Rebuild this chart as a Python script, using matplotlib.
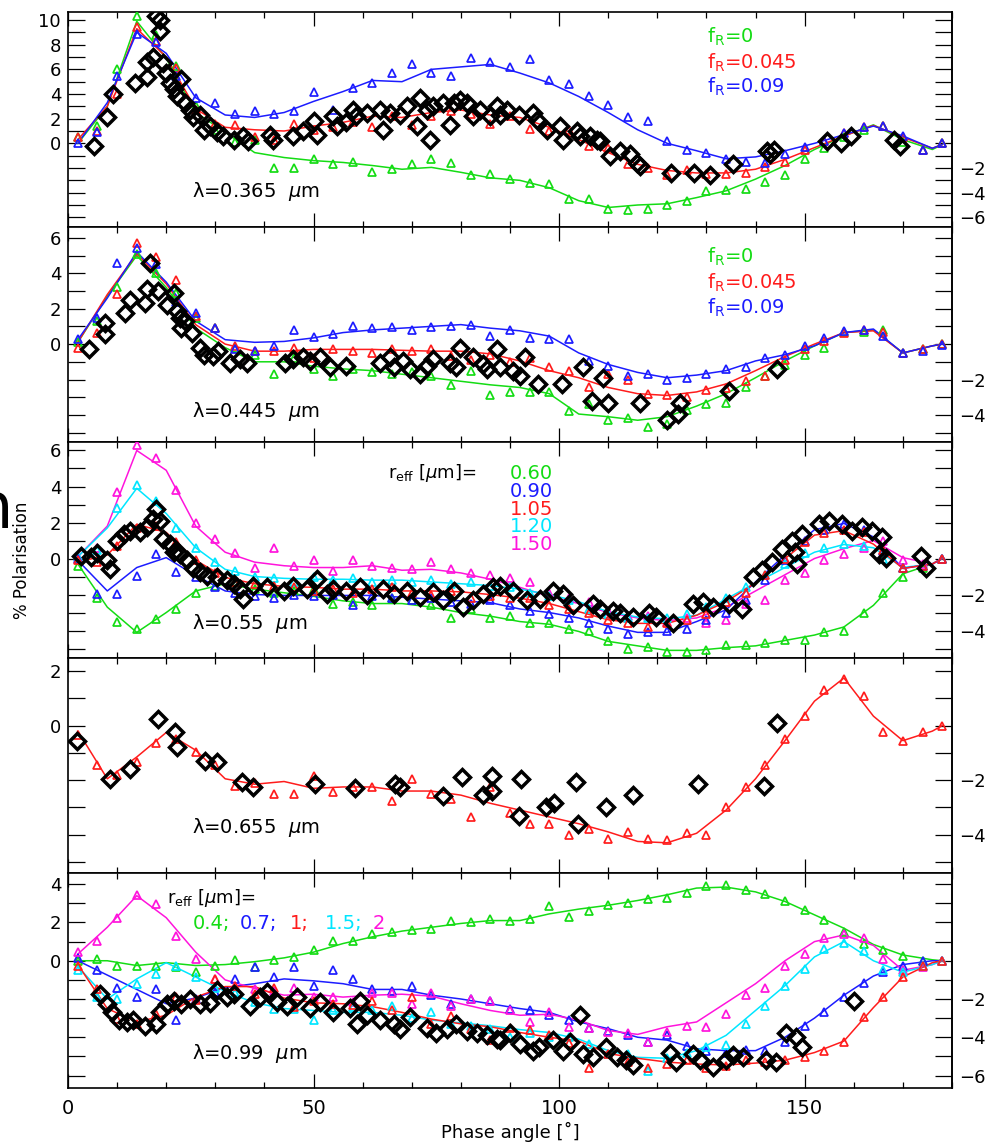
import matplotlib.pyplot as plt
from matplotlib.ticker import MultipleLocator
import matplotlib.transforms as mtransforms

plt.rcParams['font.family'] = 'DejaVu Sans'
plt.rcParams['mathtext.default'] = 'regular'

# phase angles of the model points (triangles) and of the smoothed model curves
ang_pts = [2, 6, 10, 14, 18, 22, 26, 30, 34, 38, 42, 46, 50, 54, 58, 62, 66, 70, 74, 78, 82, 86, 90,
           94, 98, 102, 106, 110, 114, 118, 122, 126, 130, 134, 138, 142, 146, 150, 154, 158, 162,
           166, 170, 174, 178]
ang_line = [2, 8, 14, 20, 26, 32, 38, 44, 50, 56, 62, 68, 74, 80, 86, 92, 98, 104, 110, 116, 122,
            128, 134, 140, 146, 152, 158, 164, 170, 176, 178]

# ---- lambda = 0.365 um, f_R = 0 / 0.045 / 0.09
p1_line_g = [0.0, 3.0, 9.9, 6.9, 2.5, 0.9, -0.75, -1.15, -1.4, -1.55, -1.8, -2.1, -1.95, -2.35, -2.8, -3.0,
             -3.6, -4.65, -5.2, -5.0, -4.9, -4.4, -3.85, -2.9, -1.8, -0.5, 0.6, 1.5, 0.3, -0.5, -0.1]
p1_line_r = [0.3, 3.0, 9.3, 7.0, 2.8, 1.3, 1.1, 1.0, 1.4, 1.7, 2.2, 2.1, 2.5, 2.7, 2.3, 2.1, 1.3, 0.3,
             -0.75, -1.7, -2.2, -2.4, -2.4, -2.1, -1.3, -0.35, 0.6, 1.45, 0.5, -0.4, -0.1]
p1_line_b = [0.0, 3.3, 9.0, 7.3, 3.7, 2.3, 2.1, 2.5, 3.4, 4.2, 5.1, 5.0, 6.0, 6.2, 6.4, 5.7, 4.9, 3.8,
             2.5, 1.1, 0.0, -0.6, -1.25, -1.1, -0.6, 0.0, 0.7, 1.4, 0.6, -0.4, -0.1]
p1_pts_g = [0.5, 1.4, 6.0, 10.3, 8.8, 6.3, 3.0, 1.1, 0.1, 0.3, -2.0, -2.0, -1.3, -1.7, -1.5, -2.3, -2.1,
            -1.7, -1.3, -1.6, -2.6, -2.5, -2.9, -3.2, -3.3, -4.5, -4.5, -5.3, -5.4, -5.3, -5.0, -4.7,
            -3.9, -3.8, -3.7, -3.1, -2.6, -1.3, -0.4, 0.5, 1.1, 1.4, 0.1, -0.5, 0.0]
p1_pts_r = [0.5, 1.0, 4.0, 9.4, 8.3, 6.1, 2.7, 1.6, 1.5, 0.5, 0.3, 1.6, 1.1, 1.3, 1.7, 1.3, 2.2, 1.5, 2.2,
            2.6, 2.4, 1.6, 2.2, 1.2, 1.0, 1.1, -0.2, -0.4, -1.7, -2.0, -2.6, -2.2, -2.5, -2.5, -2.4,
            -1.9, -1.5, -0.5, 0.2, 0.8, 1.3, 1.4, 0.5, -0.5, 0.0]
p1_pts_b = [0.0, 0.9, 5.5, 8.9, 8.2, 5.5, 3.7, 3.3, 2.4, 2.6, 2.4, 2.6, 4.2, 2.7, 4.5, 4.9, 5.7, 6.4, 5.7,
            5.5, 6.9, 6.6, 6.2, 6.8, 5.1, 4.8, 3.8, 3.1, 2.1, 1.8, 0.2, -0.5, -0.8, -1.3, -1.5, -1.6,
            -0.9, -0.3, 0.2, 0.8, 1.3, 1.4, 0.6, -0.5, 0.0]
p1_obs_x = [5.2, 7.9, 9.2, 13.6, 16.0, 16.0, 17.4, 18.0, 18.7, 18.7, 19.4, 20.0, 20.8, 21.5, 22.1, 23.0,
            23.8, 24.8, 25.5, 26.9, 27.6, 28.9, 30.3, 31.6, 33.7, 35.7, 36.7, 41.1, 41.8, 45.9, 47.9,
            50.0, 50.6, 54.0, 54.7, 56.7, 58.0, 58.7, 60.8, 63.5, 64.2, 65.6, 67.6, 69.0, 71.0, 71.7,
            73.0, 73.7, 74.4, 76.4, 77.8, 78.5, 79.8, 81.2, 82.5, 83.9, 85.9, 87.3, 88.0, 89.3, 91.9,
            94.7, 95.4, 97.5, 100.2, 100.8, 103.6, 104.3, 106.3, 107.7, 108.4, 110.4, 112.4, 114.5,
            115.8, 116.5, 122.7, 127.4, 130.8, 135.5, 142.3, 143.0, 143.7, 154.5, 157.3, 159.4, 168.2,
            169.5]
p1_obs_y = [-0.2, 2.1, 4.0, 4.9, 5.4, 6.6, 7.0, 10.3, 10.0, 9.1, 6.5, 5.7, 4.9, 4.4, 3.8, 5.2, 3.3, 2.7,
            2.1, 2.3, 1.1, 1.4, 0.9, 0.6, 0.3, 0.6, 0.2, 0.7, 0.3, 0.6, 1.0, 1.8, 0.7, 2.2, 1.4, 1.7,
            2.7, 2.2, 2.5, 2.7, 1.1, 2.5, 2.3, 3.0, 1.4, 3.7, 2.7, 0.3, 3.0, 3.3, 1.5, 3.3, 3.5, 3.3,
            2.2, 2.7, 2.2, 3.0, 2.3, 2.7, 2.3, 2.5, 1.9, 1.1, 1.4, 0.3, 1.0, 0.6, 0.6, 0.3, 0.2, -1.0,
            -0.6, -0.9, -1.6, -1.8, -2.4, -2.4, -2.6, -1.7, -0.6, -0.9, -0.5, 0.2, 0.05, 0.6, 0.3, -0.2]

# ---- lambda = 0.445 um
p2_line_g = [0.1, 2.7, 5.0, 3.2, 0.9, -0.2, -1.0, -1.0, -1.25, -1.4, -1.5, -1.7, -1.9, -2.1, -2.3, -2.45,
             -2.8, -3.95, -4.1, -4.3, -4.1, -3.5, -2.8, -1.9, -0.95, -0.1, 0.65, 0.8, -0.5, -0.1, 0.0]
p2_line_r = [0.1, 2.8, 5.1, 3.4, 1.1, 0.0, -0.4, -0.4, -0.3, -0.3, -0.3, -0.35, -0.4, -0.4, -0.55, -0.95,
             -1.5, -1.9, -2.45, -2.8, -2.9, -2.7, -2.25, -1.5, -0.7, 0.0, 0.65, 0.75, -0.5, -0.1, 0.0]
p2_line_b = [0.25, 2.6, 5.2, 3.5, 1.3, 0.25, 0.1, 0.15, 0.35, 0.65, 0.8, 0.9, 1.0, 1.1, 0.9, 0.75, 0.45,
             -0.5, -1.15, -1.6, -1.9, -1.75, -1.5, -0.95, -0.6, -0.1, 0.65, 0.85, -0.5, -0.1, 0.0]
p2_pts_g = [0.1, 1.3, 3.2, 5.1, 4.0, 2.9, 1.5, 0.9, -0.2, -0.6, -1.7, -0.8, -1.4, -1.8, -1.4, -1.6, -1.7,
            -1.6, -1.8, -2.3, -1.5, -2.9, -2.7, -2.7, -2.7, -3.8, -3.4, -4.3, -4.2, -4.7, -4.5, -3.7,
            -3.4, -3.3, -2.4, -1.8, -1.2, -0.6, -0.2, 0.7, 0.7, 0.8, -0.5, -0.3, 0.0]
p2_pts_r = [-0.2, 0.6, 2.8, 5.7, 4.9, 3.6, 1.6, 0.9, -0.1, -0.4, -0.4, -0.2, -0.8, -0.3, -0.4, -0.5, -0.3,
            -0.4, -0.3, -0.7, -0.9, -0.6, -1.0, -0.8, -1.3, -1.5, -2.4, -1.7, -2.0, -2.8, -2.9, -3.0,
            -2.6, -2.5, -2.1, -1.8, -0.9, -0.3, 0.2, 0.6, 0.8, 0.7, -0.5, -0.3, 0.0]
p2_pts_b = [0.3, 1.5, 4.6, 5.4, 4.5, 2.4, 1.75, 0.9, -0.3, -0.4, -0.1, 0.8, 0.4, 0.55, 1.0, 0.9, 0.95,
            0.77, 0.95, 1.0, 1.05, 0.45, 0.8, 0.35, 0.26, 0.26, -0.95, -1.25, -1.8, -1.7, -2.0, -1.9,
            -1.7, -1.4, -1.3, -0.77, -0.6, -0.1, 0.35, 0.73, 0.82, 0.45, -0.5, -0.4, -0.05]
p2_obs_x = [4.2, 7.5, 7.5, 11.6, 12.6, 15.7, 16.0, 16.7, 18.4, 20.1, 21.5, 22.1, 22.8, 23.8, 23.1, 25.2,
            26.9, 27.6, 29.6, 30.6, 33.0, 35.0, 36.4, 44.2, 45.9, 47.9, 49.3, 51.3, 53.4, 56.7, 63.5,
            65.6, 66.3, 68.3, 69.7, 71.7, 73.0, 74.4, 77.8, 79.1, 79.8, 82.5, 84.6, 85.3, 87.3, 88.0,
            90.7, 92.0, 93.0, 95.8, 100.5, 104.9, 106.6, 109.0, 110.0, 116.5, 121.9, 124.3, 124.6,
            134.5, 144.3]
p2_obs_y = [-0.3, 1.2, 0.55, 1.75, 2.5, 2.3, 3.1, 4.6, 3.0, 2.2, 2.9, 1.85, 1.5, 1.3, 0.9, 0.65, -0.2,
            -0.6, -0.7, -0.4, -1.05, -0.85, -1.05, -1.05, -0.85, -0.75, -0.95, -0.75, -1.3, -1.25,
            -1.05, -0.75, -1.3, -0.95, -1.4, -1.7, -1.25, -0.85, -1.05, -1.3, -0.2, -0.75, -1.15, -1.4,
            -0.3, -1.3, -1.5, -1.8, -0.75, -2.25, -2.25, -1.3, -3.2, -1.9, -3.35, -3.3, -4.3, -3.95,
            -3.3, -2.65, -1.4]

# ---- lambda = 0.55 um, r_eff = 0.60 / 0.90 / 1.05 / 1.20 / 1.50
p3_line_g = [-0.3, -2.7, -4.1, -3.0, -1.8, -1.4, -1.7, -1.9, -2.1, -2.35, -2.5, -2.5, -2.7, -3.0, -3.2,
             -3.5, -3.65, -4.05, -4.6, -4.85, -5.1, -5.1, -4.95, -4.85, -4.55, -4.25, -3.8, -2.6,
             -0.85, -0.3, 0.0]
p3_line_b = [-0.1, -1.8, -0.5, 0.05, -0.95, -1.8, -2.0, -2.05, -2.05, -2.05, -2.05, -2.15, -2.25, -2.35,
             -2.45, -2.8, -3.0, -3.3, -3.75, -4.1, -4.1, -3.5, -2.85, -1.3, 0.2, 1.6, 1.95, 1.2, -0.55,
             -0.3, 0.0]
p3_line_r = [-0.2, 0.2, 1.9, 1.45, -0.1, -1.05, -1.4, -1.55, -1.6, -1.7, -1.7, -1.8, -1.8, -1.85, -2.0,
             -2.2, -2.5, -2.95, -3.4, -3.6, -3.6, -3.15, -2.4, -1.35, 0.0, 1.3, 1.55, 0.8, -0.55, -0.3,
             0.0]
p3_line_c = [0.1, 1.7, 3.9, 2.5, 0.6, -0.6, -1.0, -1.1, -1.15, -1.15, -1.2, -1.2, -1.3, -1.4, -1.5, -1.7,
             -2.0, -2.4, -2.95, -3.25, -3.35, -3.15, -2.25, -1.35, -0.5, 0.35, 0.78, 0.6, -0.5, -0.3,
             0.0]
p3_line_m = [0.1, 1.8, 6.0, 4.9, 1.8, 0.35, -0.2, -0.4, -0.5, -0.5, -0.4, -0.65, -0.6, -0.8, -1.15, -1.6,
             -2.1, -2.5, -3.0, -3.3, -3.45, -3.3, -2.7, -1.8, -0.9, 0.0, 0.55, 1.0, 0.05, -0.3, 0.0]
p3_pts_g = [-0.4, -2.2, -3.5, -3.9, -3.35, -2.8, -1.9, -1.5, -1.3, -1.7, -1.9, -1.8, -1.7, -2.5, -2.4,
            -2.6, -2.2, -2.3, -2.6, -3.3, -2.8, -3.3, -3.2, -3.6, -3.6, -3.9, -4.0, -4.6, -5.0, -4.9,
            -5.2, -5.2, -5.1, -4.8, -4.8, -4.7, -4.5, -4.5, -4.1, -4.0, -3.0, -1.9, -1.0, -0.5, 0.0]
p3_pts_b = [0.0, -1.95, -1.95, -0.95, 0.25, -0.75, -1.0, -1.6, -1.9, -2.1, -2.2, -2.0, -2.1, -2.0, -2.6,
            -2.1, -2.2, -2.3, -2.2, -2.4, -2.5, -2.3, -2.6, -2.9, -3.1, -3.3, -3.6, -3.9, -4.2, -4.1,
            -4.0, -3.9, -3.4, -3.0, -2.3, -1.2, -0.1, 1.0, 1.6, 1.9, 1.6, 0.4, -0.5, -0.4, 0.0]
p3_pts_r = [-0.1, -0.2, 0.7, 1.7, 1.8, 0.9, -0.1, -0.8, -1.3, -1.4, -1.5, -1.6, -1.8, -1.7, -1.9, -1.7,
            -1.6, -1.9, -2.0, -1.8, -2.2, -2.1, -2.2, -2.2, -2.6, -2.8, -3.0, -3.4, -3.6, -3.8, -3.6,
            -3.4, -3.1, -2.4, -1.9, -0.9, 0.0, 0.9, 1.4, 1.6, 1.5, 0.5, -0.5, -0.4, 0.0]
p3_pts_c = [0.1, 0.5, 2.8, 4.1, 3.2, 1.7, 0.6, -0.2, -0.7, -1.0, -1.1, -1.3, -1.0, -1.2, -1.1, -1.3,
            -1.2, -1.3, -1.2, -1.4, -1.3, -1.5, -1.6, -1.9, -2.1, -2.3, -2.8, -3.1, -3.3, -3.3, -3.3,
            -3.1, -2.7, -2.2, -1.6, -0.9, -0.3, 0.3, 0.6, 0.8, 0.7, 0.0, -0.5, -0.4, 0.0]
p3_pts_m = [0.1, 0.6, 3.7, 6.3, 5.6, 3.8, 2.0, 1.1, 0.3, -0.5, 0.6, -0.4, -0.1, -0.7, -0.1, -0.4, -0.5,
            -0.6, -0.2, -0.6, -0.8, -0.9, -1.1, -1.3, -1.9, -2.2, -2.4, -2.9, -3.2, -3.2, -3.5, -3.3,
            -3.6, -3.4, -2.5, -2.3, -1.2, -0.8, -0.1, 0.25, 0.6, 1.0, -0.1, -0.3, 0.0]
p3_obs_x = [2.7, 4.7, 6.0, 8.0, 8.5, 10.0, 11.3, 12.6, 14.7, 16.0, 17.4, 18.0, 18.7, 19.4, 20.8, 21.5,
            22.8, 24.2, 25.5, 26.9, 28.2, 30.3, 32.3, 33.7, 35.0, 35.7, 37.7, 40.5, 43.9, 45.9, 48.6,
            50.6, 52.7, 54.0, 56.7, 59.5, 60.8, 64.2, 66.3, 69.0, 71.7, 74.4, 76.4, 78.5, 80.5, 82.5,
            84.6, 86.6, 88.0, 90.7, 93.4, 96.1, 98.8, 100.8, 102.8, 106.9, 108.3, 111.0, 112.3, 115.0,
            118.4, 119.8, 123.1, 127.2, 129.2, 131.3, 134.6, 137.3, 139.4, 141.4, 143.4, 145.4, 147.5,
            149.5, 148.5, 148.0, 152.9, 154.9, 157.6, 159.7, 161.7, 163.8, 165.8, 165.2, 166.5, 173.6,
            174.7]
p3_obs_y = [0.15, 0.1, 0.3, -0.1, -0.6, 1.0, 1.35, 1.55, 1.45, 1.75, 2.2, 2.75, 2.1, 1.1, 0.8, 0.35,
            0.25, -0.1, -0.5, -0.75, -0.95, -1.05, -1.2, -1.4, -1.7, -2.25, -1.5, -1.6, -1.8, -1.5, -1.7,
            -1.15, -1.95, -1.7, -1.8, -1.6, -2.05, -1.7, -1.95, -1.8, -2.15, -1.85, -2.3, -1.8, -2.7,
            -2.3, -1.95, -1.6, -1.5, -1.8, -2.3, -2.25, -1.8, -1.95, -2.6, -2.5, -2.8, -2.9, -3.05,
            -3.25, -3.0, -3.25, -3.6, -2.5, -2.4, -2.7, -2.5, -2.8, -1.05, -0.65, -0.2, 0.55, 1.0, 1.35,
            -0.3, 0.35, 1.9, 2.1, 1.9, 1.55, 1.75, 1.55, 1.2, 0.25, 0.05, 0.15, -0.5]

# ---- lambda = 0.655 um
p4_line_r = [-0.2, -1.95, -1.15, -0.25, -0.9, -1.95, -2.15, -2.05, -2.3, -2.25, -2.25, -2.4, -2.4, -2.55,
             -2.85, -3.1, -3.35, -3.6, -3.9, -4.25, -4.3, -3.95, -3.1, -1.95, -0.55, 0.9, 1.75, 0.35,
             -0.55, -0.2, 0.0]
p4_pts_r = [-0.35, -1.45, -1.8, -1.35, -0.65, -0.5, -0.95, -1.45, -2.2, -2.1, -2.5, -2.5, -1.85, -2.45,
            -2.25, -2.25, -2.75, -1.95, -2.5, -2.7, -3.35, -2.25, -3.2, -3.6, -3.6, -4.0, -3.8, -4.15,
            -3.9, -4.15, -4.2, -3.95, -4.0, -3.0, -2.25, -1.45, -0.5, 0.35, 1.3, 1.7, 1.1, -0.25, -0.55,
            -0.25, 0.0]
p4_obs_x = [1.8, 8.5, 12.6, 18.4, 21.8, 22.1, 27.9, 30.3, 35.4, 37.7, 50.3, 58.5, 66.6, 67.6, 76.4, 80.2,
            84.6, 86.3, 86.3, 92.3, 91.9, 97.3, 99.0, 103.4, 103.8, 109.6, 115.0, 128.3, 141.8, 144.3]
p4_obs_y = [-0.55, -1.95, -1.6, 0.25, -0.25, -0.8, -1.3, -1.35, -2.05, -2.25, -2.15, -2.3, -2.15, -2.25,
            -2.6, -1.9, -2.55, -2.4, -1.85, -1.95, -3.3, -3.0, -2.85, -2.05, -3.6, -3.0, -2.55, -2.15,
            -2.2, 0.1]

# ---- lambda = 0.99 um, r_eff = 0.4 / 0.7 / 1 / 1.5 / 2
p5_line_g = [0.0, 0.0, -0.25, -0.1, -0.25, -0.2, -0.05, 0.15, 0.45, 0.9, 1.25, 1.55, 1.75, 1.95, 2.1,
             2.1, 2.45, 2.7, 2.9, 3.15, 3.45, 3.8, 3.85, 3.6, 3.1, 2.4, 1.7, 0.85, 0.3, 0.05, 0.0]
p5_line_b = [0.0, -0.75, -1.5, -2.25, -1.95, -1.4, -1.2, -0.95, -1.05, -1.2, -1.5, -1.5, -1.8, -2.0,
             -2.25, -2.5, -2.7, -3.2, -3.55, -4.0, -4.15, -4.6, -4.7, -4.7, -4.0, -3.0, -1.8, -0.8, -0.2,
             0.0, 0.0]
p5_line_r = [-0.2, -2.5, -3.2, -2.85, -1.9, -1.35, -1.35, -1.95, -2.2, -2.25, -2.4, -2.7, -3.05, -3.3,
             -3.45, -3.75, -4.0, -4.2, -4.85, -5.1, -5.3, -5.4, -5.45, -5.35, -5.2, -4.8, -4.2, -2.45,
             -0.85, -0.1, 0.0]
p5_line_c = [-0.3, -2.0, -0.95, -0.1, -0.85, -1.6, -2.2, -2.5, -2.6, -2.7, -2.7, -2.85, -3.1, -3.25,
             -3.4, -3.6, -3.75, -4.1, -4.7, -5.05, -5.1, -4.7, -3.9, -2.6, -1.3, 0.2, 1.0, 0.0, -0.6,
             -0.2, 0.0]
p5_line_m = [0.35, 1.75, 3.4, 2.25, 0.45, -1.0, -1.45, -1.8, -1.75, -1.9, -1.8, -1.75, -1.85, -2.25,
             -2.6, -2.85, -2.8, -3.1, -3.65, -3.85, -3.45, -3.2, -2.2, -1.2, 0.0, 1.0, 1.35, 0.8, -0.5,
             -0.2, 0.0]
p5_pts_g = [0.0, 0.1, -0.3, -0.25, -0.3, -0.35, -0.6, -0.25, 0.05, -0.35, 0.05, 0.2, 0.55, 1.05, 1.05,
            1.4, 1.5, 1.6, 1.65, 2.1, 2.0, 2.2, 2.1, 2.2, 2.85, 2.3, 2.6, 2.9, 3.0, 3.25, 3.3, 3.55, 3.9,
            3.95, 3.7, 3.5, 3.1, 2.65, 2.15, 1.5, 0.9, 0.55, 0.25, 0.0, 0.0]
p5_pts_b = [0.15, -0.5, -1.4, -1.9, -1.5, -3.1, -2.0, -1.65, -0.95, -0.35, -0.85, -0.35, -1.3, -0.5,
            -0.95, -1.5, -1.6, -1.3, -1.8, -2.25, -2.0, -2.1, -2.5, -2.6, -2.85, -3.1, -3.5, -3.65, -3.9,
            -4.25, -3.9, -4.45, -4.7, -4.8, -4.65, -4.7, -4.25, -3.4, -2.7, -1.9, -1.15, -0.6, -0.25,
            0.0, 0.0]
p5_pts_r = [-0.25, -1.5, -3.05, -3.3, -2.8, -1.9, -2.05, -0.95, -1.3, -1.75, -1.4, -2.4, -2.1, -2.25,
            -2.3, -2.1, -2.6, -1.9, -3.3, -2.9, -3.55, -4.15, -3.5, -3.6, -3.9, -4.3, -5.6, -4.9, -5.3,
            -5.6, -5.4, -5.2, -5.6, -5.5, -5.2, -5.3, -5.2, -5.05, -4.7, -4.25, -2.95, -1.9, -0.85,
            -0.25, 0.0]
p5_pts_c = [-0.5, -1.9, -2.0, -1.2, -0.7, -0.25, -0.85, -1.4, -1.7, -2.15, -2.5, -2.5, -3.1, -2.6, -2.4,
            -2.6, -2.35, -3.0, -2.7, -3.3, -3.4, -3.55, -4.0, -3.8, -4.0, -4.0, -4.35, -4.85, -4.9,
            -5.75, -5.1, -4.8, -4.5, -4.4, -3.3, -2.35, -1.3, -0.45, 0.6, 0.95, 0.5, -0.5, -0.6, -0.25,
            0.0]
p5_pts_m = [0.45, 1.05, 2.25, 3.45, 2.95, 1.3, 0.1, -0.95, -1.3, -1.5, -1.6, -1.4, -1.9, -1.9, -2.15,
            -1.7, -1.7, -2.25, -1.7, -2.35, -2.0, -2.1, -2.6, -3.2, -2.7, -3.45, -3.5, -3.75, -3.8,
            -4.25, -3.75, -3.4, -3.45, -2.8, -1.8, -1.4, -0.3, 0.35, 1.2, 1.4, 1.2, 0.1, -0.5, -0.35,
            0.0]
p5_obs_x = [6.5, 7.9, 8.9, 10.3, 12.0, 13.3, 15.7, 18.0, 18.7, 20.1, 21.5, 23.1, 24.8, 26.9, 28.9, 30.3,
            32.3, 33.7, 37.1, 39.1, 40.5, 42.5, 44.6, 46.6, 49.3, 51.3, 54.0, 57.4, 58.8, 59.5, 60.8,
            63.5, 66.3, 67.6, 69.7, 73.0, 75.0, 77.1, 79.1, 81.2, 83.2, 85.3, 87.3, 88.0, 90.0, 92.0,
            94.7, 96.0, 98.8, 100.8, 102.2, 104.3, 104.9, 106.9, 109.6, 111.7, 113.7, 115.0, 122.5,
            123.9, 127.2, 128.6, 131.3, 134.0, 135.4, 137.4, 142.1, 144.1, 146.1, 148.2, 149.5, 160.0]
p5_obs_y = [-1.75, -2.25, -2.7, -3.1, -3.2, -3.1, -3.4, -3.3, -2.7, -2.25, -2.1, -2.25, -2.0, -2.25,
            -2.2, -1.55, -1.9, -1.75, -2.35, -1.9, -1.65, -2.15, -2.35, -1.9, -2.45, -2.15, -2.7, -2.45,
            -3.3, -2.1, -2.85, -3.1, -3.3, -3.55, -2.95, -3.5, -3.8, -3.55, -3.3, -3.65, -3.8, -3.9,
            -4.1, -4.15, -3.8, -4.35, -4.7, -4.5, -4.15, -4.7, -4.25, -2.85, -4.85, -5.05, -4.5, -5.05,
            -5.2, -5.45, -4.8, -5.3, -4.85, -5.2, -5.55, -5.2, -4.95, -5.05, -5.2, -5.3, -3.8, -4.0,
            -4.5, -2.1]

wavelengths = ['0.365', '0.445', '0.55', '0.655', '0.99']
fr_labels = ['0', '0.045', '0.09']
reff_labels_p3 = ['0.60', '0.90', '1.05', '1.20', '1.50']
reff_labels_p5 = ['0.4;', '0.7;', '1;', '1.5;', '2']

GREEN, BLUE, RED, CYAN, MAGENTA = '#14dc14', '#1c1cff', '#ff1c1c', '#00e6ff', '#ff14dc'

panels = [
    dict(ylim=(-6.8, 10.65), lam_y=0.167,
         models=[(GREEN, p1_line_g, p1_pts_g), (RED, p1_line_r, p1_pts_r), (BLUE, p1_line_b, p1_pts_b)],
         obs=(p1_obs_x, p1_obs_y)),
    dict(ylim=(-5.55, 6.6), lam_y=0.144,
         models=[(GREEN, p2_line_g, p2_pts_g), (RED, p2_line_r, p2_pts_r), (BLUE, p2_line_b, p2_pts_b)],
         obs=(p2_obs_x, p2_obs_y)),
    dict(ylim=(-5.5, 6.45), lam_y=0.158,
         models=[(GREEN, p3_line_g, p3_pts_g), (MAGENTA, p3_line_m, p3_pts_m), (CYAN, p3_line_c, p3_pts_c),
                 (BLUE, p3_line_b, p3_pts_b), (RED, p3_line_r, p3_pts_r)],
         obs=(p3_obs_x, p3_obs_y)),
    dict(ylim=(-5.4, 2.5), lam_y=0.209,
         models=[(RED, p4_line_r, p4_pts_r)],
         obs=(p4_obs_x, p4_obs_y)),
    dict(ylim=(-6.65, 4.6), lam_y=0.158,
         models=[(GREEN, p5_line_g, p5_pts_g), (BLUE, p5_line_b, p5_pts_b), (MAGENTA, p5_line_m, p5_pts_m),
                 (CYAN, p5_line_c, p5_pts_c), (RED, p5_line_r, p5_pts_r)],
         obs=(p5_obs_x, p5_obs_y)),
]

fig, axes = plt.subplots(5, 1, figsize=(9.9, 11.44), dpi=100, sharex=True,
                         gridspec_kw=dict(hspace=0))
fig.subplots_adjust(left=0.0687, right=0.9616, top=0.9895, bottom=0.049)

for i, (ax, p) in enumerate(zip(axes, panels)):
    for color, line, pts in p['models']:
        ax.plot(ang_line, line, color=color, lw=1.1, zorder=2)
        ax.plot(ang_pts, pts, ls='none', marker='^', ms=6.3, mfc='none', mec=color, mew=1.25, zorder=3)
    ax.plot(p['obs'][0], p['obs'][1], ls='none', marker='D', ms=8, mfc='none', mec='black',
            mew=2.5, zorder=4)

    lo, hi = p['ylim']
    ax.set_xlim(0, 180)
    ax.set_ylim(lo, hi)
    ticks = list(range(int(lo), int(hi) + 1))
    ax.set_yticks(ticks)
    ax.set_yticklabels([str(t) if t >= 0 and t % 2 == 0 else '' for t in ticks])
    ax.tick_params(axis='y', direction='in', length=12, width=0.9, labelsize=13, pad=5)
    sec = ax.secondary_yaxis('right')
    sec.set_yticks(ticks)
    sec.set_yticklabels(['\u2212%d' % -t if t < 0 and t % 2 == 0 else '' for t in ticks])
    sec.tick_params(direction='in', length=12, width=0.9, labelsize=13, pad=5)
    sec.spines['right'].set_linewidth(1.2)

    ax.xaxis.set_major_locator(MultipleLocator(50))
    ax.xaxis.set_minor_locator(MultipleLocator(10))
    ax.tick_params(axis='x', which='major', direction='in', length=10, width=0.9, top=True,
                   labelsize=14, pad=8, labelbottom=(i == 4))
    ax.tick_params(axis='x', which='minor', direction='in', length=4.5, width=0.9, top=True)
    for s in ax.spines.values():
        s.set_linewidth(1.2)

    ax.text(0.14, p['lam_y'], '\u03bb=%s  $\\mathit{\\mu}$m' % wavelengths[i], transform=ax.transAxes,
            fontsize=14, va='center', ha='left')

# f_R legends
for ax, ys in [(axes[0], [0.885, 0.763, 0.651]), (axes[1], [0.86, 0.74, 0.623])]:
    for lab, col, y in zip(fr_labels, [GREEN, RED, BLUE], ys):
        ax.text(0.723, y, 'f$_R$=' + lab, color=col, transform=ax.transAxes, fontsize=14,
                va='center', ha='left')

# r_eff legend, lambda = 0.55
axes[2].text(0.362, 0.856, 'r$_{eff}$ [$\\mathit{\\mu}$m]=', transform=axes[2].transAxes,
             fontsize=13, va='center', ha='left')
for lab, col, y in zip(reff_labels_p3, [GREEN, BLUE, RED, CYAN, MAGENTA],
                       [0.856, 0.773, 0.69, 0.607, 0.524]):
    axes[2].text(0.5, y, lab, color=col, transform=axes[2].transAxes, fontsize=14,
                 va='center', ha='left')

# r_eff legend, lambda = 0.99
axes[4].text(0.112, 0.884, 'r$_{eff}$ [$\\mathit{\\mu}$m]=', transform=axes[4].transAxes,
             fontsize=13, va='center', ha='left')
blend = mtransforms.blended_transform_factory(axes[4].transData, axes[4].transAxes)
for lab, col, x in zip(reff_labels_p5, [GREEN, BLUE, RED, CYAN, MAGENTA],
                       [25.3, 35.0, 45.2, 52.3, 62.1]):
    axes[4].text(x, 0.763, lab, color=col, transform=blend, fontsize=14, va='center', ha='left')

fig.text(22 / 990, 0.51, '% Polarisation', rotation=90, fontsize=12, va='center', ha='center')
fig.text(510 / 990, 1 - 1132 / 1144, 'Phase angle [\u02da]', fontsize=13, va='center', ha='center')
# glyph cut off at the left page edge, as in the source scan
fig.text(13 / 990, 1 - 528 / 1144, 'n', fontsize=46, ha='right', va='baseline')

fig.savefig('out.png', dpi=100)
